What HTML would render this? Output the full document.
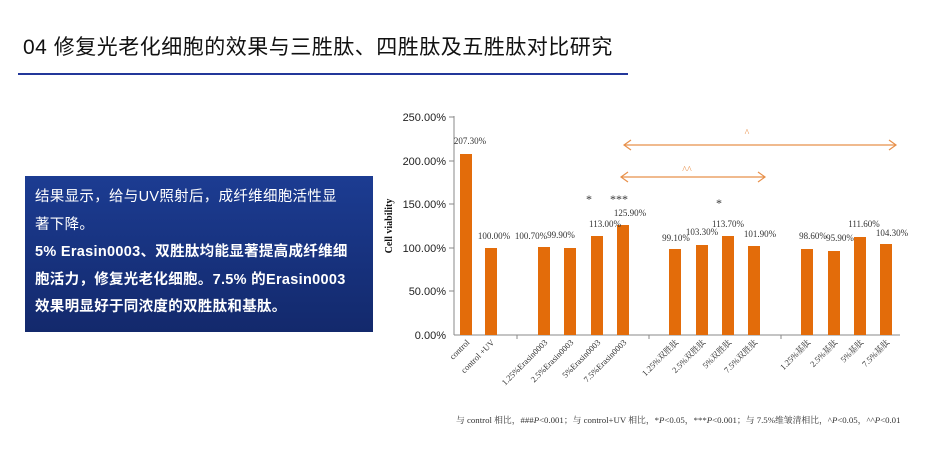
<!DOCTYPE html>
<html><head><meta charset="utf-8"><style>
body{margin:0;width:928px;height:449px;background:#fff;overflow:hidden;position:relative;font-family:"Liberation Sans","Noto Sans CJK SC",sans-serif}
.title{position:absolute;left:23px;top:35px;font-size:21px;color:#111;letter-spacing:0.5px;line-height:26px}
.rule{position:absolute;left:18px;top:73px;width:610px;height:2px;background:#23379a}
.box{position:absolute;left:25px;top:176px;width:348px;height:156px;background:linear-gradient(#1c3c92,#13296c);color:#fff;font-size:14.5px;line-height:27.5px;padding:8px 0 0 10px;box-sizing:border-box;letter-spacing:0.3px}
</style></head><body>
<div class="title">04 修复光老化细胞的效果与三胜肽、四胜肽及五胜肽对比研究</div>
<div class="rule"></div>
<div class="box">结果显示，给与UV照射后，成纤维细胞活性显<br>著下降。<br><b>5% Erasin0003、双胜肽均能显著提高成纤维细<br>胞活力，修复光老化细胞。7.5% 的Erasin0003<br>效果明显好于同浓度的双胜肽和基肽。</b></div>
<svg width="928" height="449" style="position:absolute;left:0;top:0" font-family="Liberation Serif, Noto Serif CJK SC, serif">
<g font-family="Liberation Sans, sans-serif" font-size="11" fill="#222" text-anchor="end">
<text x="446" y="121">250.00%</text><text x="446" y="165">200.00%</text><text x="446" y="208">150.00%</text><text x="446" y="252">100.00%</text><text x="446" y="295">50.00%</text><text x="446" y="339">0.00%</text>
</g>
<text transform="translate(392,226) rotate(-90)" font-size="10" font-weight="bold" text-anchor="middle" fill="#111">Cell viability</text>
<g stroke="#888" stroke-width="1">
<line x1="454" y1="116" x2="454" y2="335"/><line x1="454" y1="335" x2="900" y2="335"/>
<line x1="449" y1="117" x2="454" y2="117"/><line x1="449" y1="161" x2="454" y2="161"/><line x1="449" y1="204" x2="454" y2="204"/><line x1="449" y1="248" x2="454" y2="248"/><line x1="449" y1="291" x2="454" y2="291"/>
<line x1="517" y1="335" x2="517" y2="339"/><line x1="649" y1="335" x2="649" y2="339"/><line x1="781" y1="335" x2="781" y2="339"/>
</g>
<g fill="#e36c0a">
<rect x="460" y="154" width="12" height="181"/>
<rect x="485" y="248" width="12" height="87"/>
<rect x="538" y="247" width="12" height="88"/>
<rect x="564" y="248" width="12" height="87"/>
<rect x="591" y="236" width="12" height="99"/>
<rect x="617" y="225" width="12" height="110"/>
<rect x="669" y="249" width="12" height="86"/>
<rect x="696" y="245" width="12" height="90"/>
<rect x="722" y="236" width="12" height="99"/>
<rect x="748" y="246" width="12" height="89"/>
<rect x="801" y="249" width="12" height="86"/>
<rect x="828" y="251" width="12" height="84"/>
<rect x="854" y="237" width="12" height="98"/>
<rect x="880" y="244" width="12" height="91"/>
</g>
<g font-size="9" fill="#333" text-anchor="middle">
<text x="470" y="144">207.30%</text><text x="494" y="239">100.00%</text>
<text x="531" y="239">100.70%</text><text x="561" y="238">99.90%</text><text x="605" y="227">113.00%</text><text x="630" y="216">125.90%</text>
<text x="676" y="241">99.10%</text><text x="702" y="235">103.30%</text><text x="728" y="227">113.70%</text><text x="760" y="237">101.90%</text>
<text x="813" y="239">98.60%</text><text x="840" y="241">95.90%</text><text x="864" y="227">111.60%</text><text x="892" y="236">104.30%</text>
<text x="589" y="203" font-size="12">*</text><text x="619" y="203" font-size="12">***</text><text x="719" y="207" font-size="12">*</text>
</g>
<g stroke="#e8904a" stroke-width="1.2" fill="none">
<line x1="624" y1="145" x2="896" y2="145"/><polyline points="631,140 624,145 631,150"/><polyline points="889,140 896,145 889,150"/>
<line x1="621" y1="177" x2="765" y2="177"/><polyline points="628,172 621,177 628,182"/><polyline points="758,172 765,177 758,182"/>
</g>
<g fill="#e8904a" font-size="10" text-anchor="middle"><text x="747" y="136">^</text><text x="687" y="173">^^</text></g>
<g font-size="8.5" fill="#333" text-anchor="end">
<text transform="translate(470,343) rotate(-45)">control</text>
<text transform="translate(495,343) rotate(-45)">control +UV</text>
<text transform="translate(548,343) rotate(-45)">1.25%Erasin0003</text>
<text transform="translate(574,343) rotate(-45)">2.5%Erasin0003</text>
<text transform="translate(601,343) rotate(-45)">5%Erasin0003</text>
<text transform="translate(627,343) rotate(-45)">7.5%Erasin0003</text>
<text transform="translate(679,343) rotate(-45)">1.25%双胜肽</text>
<text transform="translate(706,343) rotate(-45)">2.5%双胜肽</text>
<text transform="translate(732,343) rotate(-45)">5%双胜肽</text>
<text transform="translate(758,343) rotate(-45)">7.5%双胜肽</text>
<text transform="translate(811,343) rotate(-45)">1.25%基肽</text>
<text transform="translate(838,343) rotate(-45)">2.5%基肽</text>
<text transform="translate(864,343) rotate(-45)">5%基肽</text>
<text transform="translate(890,343) rotate(-45)">7.5%基肽</text>
</g>
<text x="456" y="423" font-size="8.8" fill="#333">与 control 相比，###<tspan font-style="italic">P</tspan>&lt;0.001；与 control+UV 相比，*<tspan font-style="italic">P</tspan>&lt;0.05，***<tspan font-style="italic">P</tspan>&lt;0.001；与 7.5%维皱清相比，^<tspan font-style="italic">P</tspan>&lt;0.05，^^<tspan font-style="italic">P</tspan>&lt;0.01</text>
</svg>
</body></html>
